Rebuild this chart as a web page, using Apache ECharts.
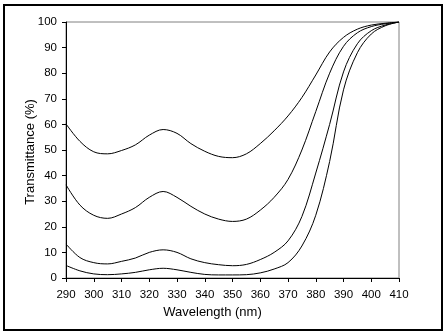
<!DOCTYPE html>
<html>
<head>
<meta charset="utf-8">
<script src="https://cdn.jsdelivr.net/npm/echarts@6/dist/echarts.min.js"></script>
<style>
html,body{margin:0;padding:0;background:#fff;}
#c{width:445px;height:335px;}
</style>
</head>
<body>
<div id="c"></div>
<script>
const wavelengths = [290,295,300,305,310,315,320,325,330,335,340,345,350,355,360,365,370,375,380,385,390,395,400,405,410];
const curveA = [60.2,53.4,49.3,48.5,49.8,52.0,55.8,58.0,56.5,52.5,49.5,47.5,47.0,48.5,52.5,57.5,63.3,70.5,79.3,88.3,94.0,97.2,98.8,99.5,100];
const curveB = [36.4,28.5,24.5,23.3,25.0,27.5,31.5,33.8,31.5,28.0,25.0,23.0,22.1,23.0,26.5,31.5,38.5,50.0,65.0,80.0,90.5,95.8,98.2,99.3,100];
const curveC = [13.3,8.0,6.0,5.5,6.5,7.8,10.0,11.0,10.0,7.5,6.0,5.2,4.8,5.3,7.2,10.0,14.5,24.0,41.0,60.0,80.5,91.5,96.6,98.8,100];
const curveD = [4.9,2.8,1.6,1.3,1.6,2.2,3.2,3.8,3.2,2.2,1.4,1.2,1.2,1.3,2.0,3.5,6.0,12.5,24.5,45.5,73.5,88.0,95.3,98.5,100];
const xTicks = [290,300,310,320,330,340,350,360,370,380,390,400,410];
const yTicks = [0,10,20,30,40,50,60,70,80,90,100];
const xTitle = 'Wavelength (nm)';
const yTitle = 'Transmittance (%)';

const chart = echarts.init(document.getElementById('c'));
const font = '"Liberation Sans", Arial, sans-serif';
function mk(arr){ return {type:'line', data: wavelengths.map((w,i)=>[w,arr[i]]), smooth:0.35, showSymbol:false, symbol:'none', lineStyle:{color:'#000',width:1}, itemStyle:{color:'#000'}, silent:true, animation:false}; }
chart.setOption({
  animation:false,
  backgroundColor:'#fff',
  grid:{left:66,right:46,top:22,bottom:57,show:true,borderColor:'#808080',borderWidth:1,backgroundColor:'transparent'},
  xAxis:{type:'value',min:xTicks[0],max:xTicks[xTicks.length-1],interval:10,
    axisLine:{show:true,lineStyle:{color:'#000',width:1}},
    axisTick:{show:true,length:4,inside:false,lineStyle:{color:'#000'}},
    axisLabel:{color:'#000',fontSize:11.5,fontFamily:font,margin:11,showMinLabel:true,showMaxLabel:true},
    splitLine:{show:false}},
  yAxis:{type:'value',min:yTicks[0],max:yTicks[yTicks.length-1],interval:10,
    axisLine:{show:true,lineStyle:{color:'#000',width:1}},
    axisTick:{show:true,length:4,inside:false,lineStyle:{color:'#000'}},
    axisLabel:{color:'#000',fontSize:11.5,fontFamily:font,margin:9},
    splitLine:{show:false}},
  graphic:[
    {type:'rect',shape:{x:4,y:5,width:438,height:325},style:{fill:null,stroke:'#000',lineWidth:2},silent:true},
    {type:'text',x:212.5,y:312,style:{text:xTitle,font:'13px '+font,fill:'#000',textAlign:'center',textVerticalAlign:'middle'}},
    {type:'text',x:30,y:152,rotation:Math.PI/2,style:{text:yTitle,font:'13px '+font,fill:'#000',textAlign:'center',textVerticalAlign:'middle'}}
  ],
  series:[mk(curveA),mk(curveB),mk(curveC),mk(curveD)]
});
</script>
</body>
</html>
